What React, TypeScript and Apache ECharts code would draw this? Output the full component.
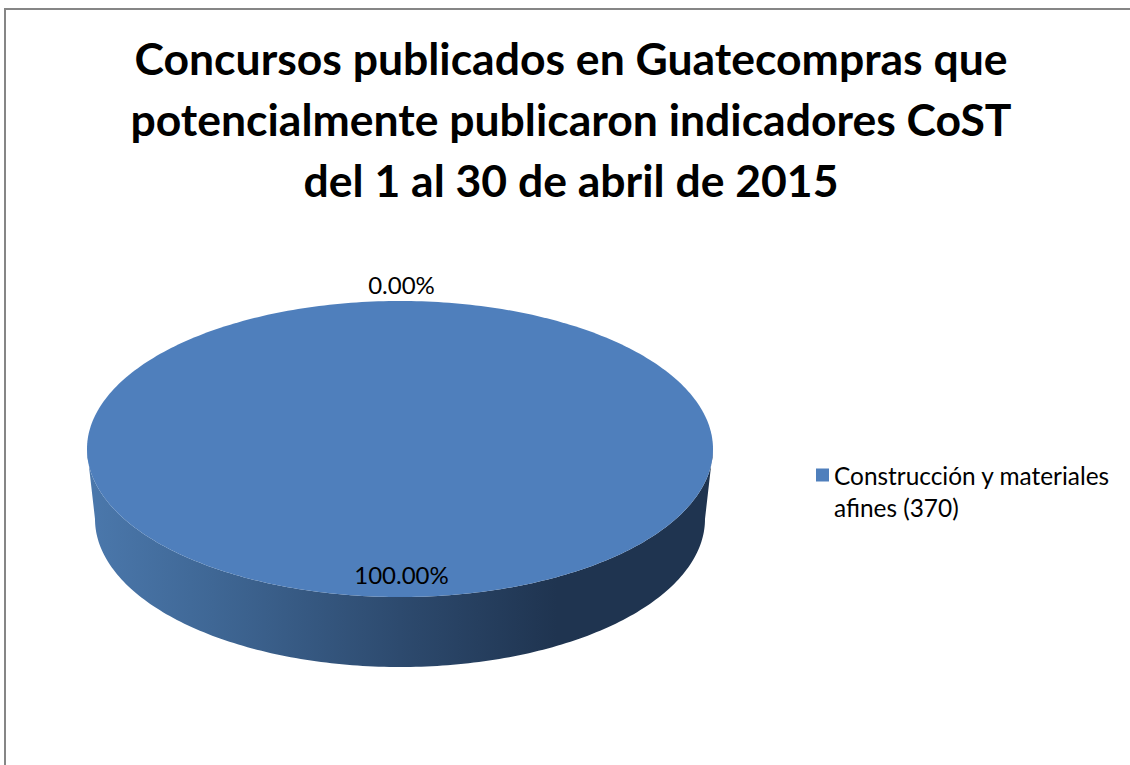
import React, { useEffect, useRef } from "react";
import * as echarts from "echarts";

const titleLines = [
  "Concursos publicados en Guatecompras que",
  "potencialmente publicaron indicadores CoST",
  "del 1 al 30 de abril de 2015",
];
const categories = ["Construcción y materiales\nafines (370)", "Otros (0)"];
const values = [370, 0];
const FONT = "Lato, Carlito, 'Open Sans', sans-serif";

const CX = 400, CY = 449, RX = 313, RY = 148, DEPTH = 70, BOTTOM_RX = 305;

function ringPoints(cx: number, cy: number, rx: number, ry: number, from: number, to: number) {
  // angles clockwise from 12 o'clock, in radians
  const pts: number[][] = [];
  const n = Math.max(2, Math.ceil(Math.abs(to - from) / (Math.PI / 180)));
  for (let i = 0; i <= n; i++) {
    const a = from + ((to - from) * i) / n;
    pts.push([cx + rx * Math.sin(a), cy - ry * Math.cos(a)]);
  }
  return pts;
}

const total = values.reduce((a, b) => a + b, 0);

function renderItem(params: any, api: any) {
  const value = api.value(0) as number;
  const share = value / total;
  const before = values.slice(0, params.dataIndex).reduce((a, b) => a + b, 0) / total;
  const start = before * 2 * Math.PI;
  const end = start + share * 2 * Math.PI;
  const mid = (start + end) / 2;
  const k = share > 0 ? 0.845 : 1.11;
  const children: any[] = [];
  if (share > 0) {
    const frontFrom = Math.max(start, Math.PI / 2);
    const frontTo = Math.min(end, (3 * Math.PI) / 2);
    // side wall runs between the right-most and left-most points of the rim
    const sideTop = ringPoints(CX, CY, RX, RY, frontFrom, frontTo);
    const sideBottom = ringPoints(CX, CY + DEPTH, BOTTOM_RX, RY, frontTo, frontFrom);
    children.push({
      type: "polygon",
      shape: { points: sideTop.concat(sideBottom) },
      style: {
        fill: new echarts.graphic.LinearGradient(0, 0, 1, 0, [
          { offset: 0, color: "#4b78ac" },
          { offset: 0.2, color: "#3f6795" },
          { offset: 0.5, color: "#2d4a6e" },
          { offset: 0.75, color: "#1f3450" },
          { offset: 1, color: "#1f3450" },
        ]),
      },
    });
    const rim = ringPoints(CX, CY, RX, RY, start, end);
    children.push({
      type: "polygon",
      shape: { points: share < 1 ? [[CX, CY], ...rim] : rim },
      style: { fill: "#4f7fbc" },
    });
  }
  children.push({
    type: "text",
    style: {
      text: (share * 100).toFixed(2) + "%",
      x: CX + 1.5 + RX * k * Math.sin(mid),
      y: CY - RY * k * Math.cos(mid),
      align: "center",
      verticalAlign: "middle",
      fill: "#000",
      font: `24px ${FONT}`,
    },
  });
  return { type: "group", children };
}

export default function App() {
  const ref = useRef<HTMLDivElement>(null);
  useEffect(() => {
    const chart = echarts.init(ref.current!, undefined, { renderer: "svg" });
    chart.setOption({
      animation: false,
      backgroundColor: "#fff",
      title: {
        text: titleLines.join("\n"),
        left: 566,
        top: 22,
        textAlign: "center",
        textStyle: {
          fontFamily: FONT,
          fontWeight: "bold",
          fontSize: 44.5,
          lineHeight: 61,
          color: "#000",
        },
      },
      legend: {
        show: true,
        orient: "vertical",
        left: 811,
        top: 422,
        itemWidth: 13,
        itemHeight: 13,
        itemGap: 0,
        data: [{ name: categories[0], icon: "rect" }],
        formatter: (name: string) => "\n" + name,
        textStyle: {
          fontFamily: FONT,
          fontSize: 24.4,
          lineHeight: 32,
          color: "#000",
        },
      },
      graphic: [
        {
          type: "rect",
          silent: true,
          shape: { x: 5, y: 9, width: 1400, height: 1000 },
          style: { fill: "none", stroke: "#868686", lineWidth: 2 },
          z: -1,
        },
      ],
      series: [
        {
          type: "custom",
          name: categories[0],
          coordinateSystem: "none",
          renderItem,
          itemStyle: { color: "#4f7fbc" },
          data: values.map((v, i) => ({ name: categories[i], value: [v] })),
        },
      ],
    });
    return () => chart.dispose();
  }, []);
  return (
    <div
      ref={ref}
      style={{ position: "fixed", left: 0, top: 0, width: 1130, height: 765 }}
    />
  );
}
